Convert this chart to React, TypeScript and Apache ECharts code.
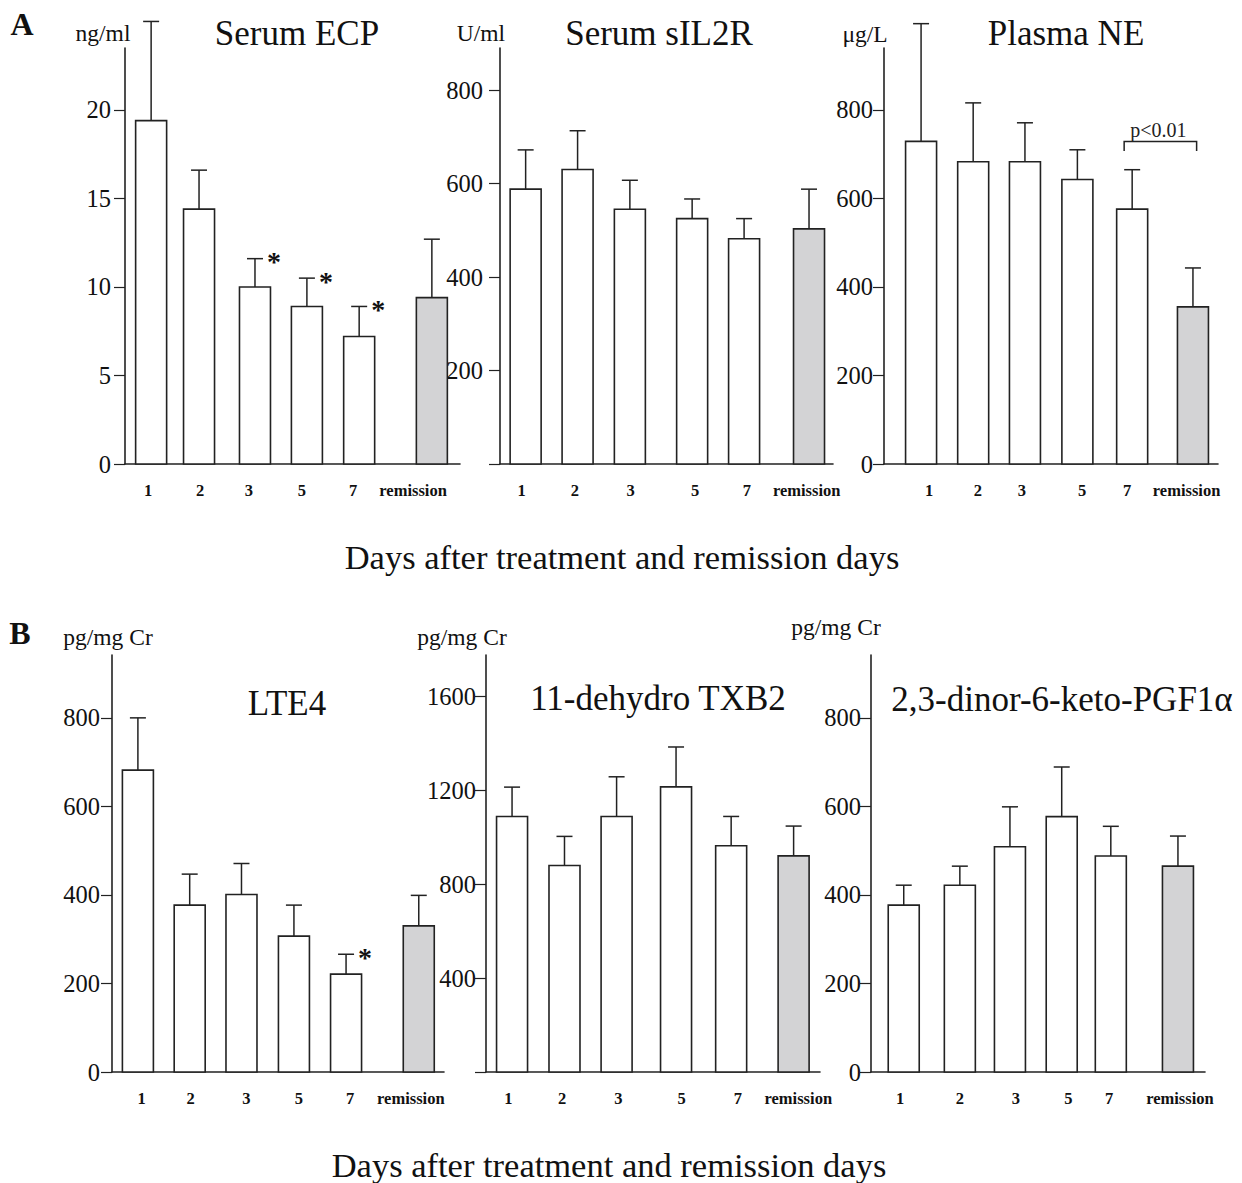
import React, { useEffect, useRef } from "react";
import * as echarts from "echarts";

const days = ["1", "2", "3", "5", "7", "remission"];

// Panel A1: Serum ECP (ng/ml)
const ecpMean = [19.4, 14.4, 10.0, 8.9, 7.2, 9.4];
const ecpErr = [25.0, 16.6, 11.6, 10.5, 8.9, 12.7];
const ecpStar = [0, 0, 1, 1, 1, 0];
const ecpBarX = [0.78, 2.21, 3.88, 5.43, 6.99, 9.16];
const ecpLabelX = [0.69, 2.24, 3.7, 5.28, 6.81, 8.6];
const ecpTicks = [0, 5, 10, 15, 20];

// Panel A2: Serum sIL2R (U/ml)
const il2Mean = [588, 630, 545, 525, 482, 503];
const il2Err = [672, 713, 607, 567, 525, 588];
const il2Star = [0, 0, 0, 0, 0, 0];
const il2BarX = [0.77, 2.33, 3.9, 5.77, 7.33, 9.28];
const il2LabelX = [0.65, 2.25, 3.92, 5.86, 7.41, 9.21];
const il2Ticks = [0, 200, 400, 600, 800];

// Panel A3: Plasma NE (µg/L)
const neMean = [729, 683, 683, 643, 576, 355];
const neErr = [995, 816, 771, 710, 665, 443];
const neStar = [0, 0, 0, 0, 0, 0];
const neBarX = [1.11, 2.67, 4.22, 5.79, 7.43, 9.25];
const neLabelX = [1.35, 2.81, 4.13, 5.93, 7.28, 9.06];
const neTicks = [0, 200, 400, 600, 800];
const neBracket = [7.19, 9.36, 729, 707];

// Panel B1: LTE4
const lteMean = [682, 377, 401, 307, 221, 330];
const lteErr = [800, 447, 471, 377, 266, 399];
const lteStar = [0, 0, 0, 0, 1, 0];
const lteBarX = [0.78, 2.34, 3.9, 5.48, 7.05, 9.24];
const lteLabelX = [0.89, 2.37, 4.05, 5.63, 7.17, 9.0];
const lteTicks = [0, 200, 400, 600, 800];

// Panel B2: 11-dehydro TXB2
const txMean = [1089, 880, 1089, 1215, 964, 921];
const txErr = [1214, 1004, 1258, 1385, 1089, 1048];
const txStar = [0, 0, 0, 0, 0, 0];
const txBarX = [0.78, 2.35, 3.91, 5.69, 7.34, 9.21];
const txLabelX = [0.67, 2.28, 3.96, 5.86, 7.54, 9.35];
const txTicks = [0, 400, 800, 1200, 1600];

// Panel B3: 2,3-dinor-6-keto-PGF1α
const pgMean = [377, 422, 509, 577, 488, 465];
const pgErr = [422, 465, 599, 689, 555, 533];
const pgStar = [0, 0, 0, 0, 0, 0];
const pgBarX = [0.98, 2.66, 4.16, 5.71, 7.18, 9.19];
const pgLabelX = [0.87, 2.66, 4.34, 5.91, 7.13, 9.25];
const pgTicks = [0, 200, 400, 600, 800];

const SERIF = "'Liberation Serif', 'Times New Roman', serif";
const INK = "#222";

type Panel = {
  grid: { left: number; top: number; width: number; height: number };
  yMax: number;
  ticks: number[];
  showZero: boolean;
  labelMargin: number;
  mean: number[];
  err: number[];
  star: number[];
  barX: number[];
  labelX: number[];
  title: string;
  titlePos: [number, number];
  unit: string;
  unitPos: [number, number];
};

const panels: Panel[] = [
  { grid: { left: 125, top: 48, width: 335, height: 416 }, yMax: 23.5, ticks: ecpTicks, showZero: true, labelMargin: 14,
    mean: ecpMean, err: ecpErr, star: ecpStar, barX: ecpBarX, labelX: ecpLabelX,
    title: "Serum ECP", titlePos: [297, 33], unit: "ng/ml", unitPos: [103, 33] },
  { grid: { left: 500, top: 48, width: 333, height: 416 }, yMax: 890, ticks: il2Ticks, showZero: false, labelMargin: 17,
    mean: il2Mean, err: il2Err, star: il2Star, barX: il2BarX, labelX: il2LabelX,
    title: "Serum sIL2R", titlePos: [659, 33], unit: "U/ml", unitPos: [481, 33] },
  { grid: { left: 884, top: 48, width: 334, height: 416 }, yMax: 940, ticks: neTicks, showZero: true, labelMargin: 11,
    mean: neMean, err: neErr, star: neStar, barX: neBarX, labelX: neLabelX,
    title: "Plasma NE", titlePos: [1066, 33], unit: "μg/L", unitPos: [865, 34] },
  { grid: { left: 112, top: 655, width: 332, height: 417 }, yMax: 942, ticks: lteTicks, showZero: true, labelMargin: 12,
    mean: lteMean, err: lteErr, star: lteStar, barX: lteBarX, labelX: lteLabelX,
    title: "LTE4", titlePos: [287, 703], unit: "pg/mg Cr", unitPos: [108, 637] },
  { grid: { left: 486, top: 655, width: 334, height: 417 }, yMax: 1777, ticks: txTicks, showZero: false, labelMargin: 10,
    mean: txMean, err: txErr, star: txStar, barX: txBarX, labelX: txLabelX,
    title: "11-dehydro TXB2", titlePos: [658, 698], unit: "pg/mg Cr", unitPos: [462, 637] },
  { grid: { left: 871, top: 655, width: 334, height: 417 }, yMax: 942, ticks: pgTicks, showZero: true, labelMargin: 10,
    mean: pgMean, err: pgErr, star: pgStar, barX: pgBarX, labelX: pgLabelX,
    title: "2,3-dinor-6-keto-PGF1α", titlePos: [1062, 699], unit: "pg/mg Cr", unitPos: [836, 627] },
];

function barRender(params: any, api: any) {
  const x = api.value(0);
  const m = api.value(1);
  const e = api.value(2);
  const rem = api.value(3);
  const st = api.value(4);
  const base = api.coord([x, 0]);
  const top = api.coord([x, m]);
  const et = api.coord([x, e]);
  const bw = 31;
  const children: any[] = [
    { type: "rect", shape: { x: base[0] - bw / 2, y: top[1], width: bw, height: base[1] - top[1] },
      style: { fill: rem ? "#d3d3d5" : "#fff", stroke: INK, lineWidth: 1.6 } },
    { type: "line", shape: { x1: top[0], y1: top[1], x2: et[0], y2: et[1] },
      style: { stroke: INK, lineWidth: 1.5 } },
    { type: "line", shape: { x1: et[0] - 8, y1: et[1], x2: et[0] + 8, y2: et[1] },
      style: { stroke: INK, lineWidth: 1.5 } },
  ];
  if (st) {
    children.push({ type: "text", x: et[0] + 19, y: et[1] + 3,
      style: { text: "*", font: `bold 28px ${SERIF}`, fill: "#111", align: "center", verticalAlign: "middle" } });
  }
  return { type: "group", children };
}

function bracketRender(params: any, api: any) {
  const x1 = api.value(0), x2 = api.value(1), yT = api.value(2), yE = api.value(3);
  const a = api.coord([x1, yT]);
  const b = api.coord([x2, yT]);
  const aE = api.coord([x1, yE]);
  const bE = api.coord([x2, yE]);
  return {
    type: "group",
    children: [
      { type: "polyline", shape: { points: [[aE[0], aE[1]], [a[0], a[1]], [b[0], b[1]], [bE[0], bE[1]]] },
        style: { stroke: INK, lineWidth: 1.5, fill: "none" } },
      { type: "text", x: (a[0] + b[0]) / 2 - 2, y: a[1] - 11,
        style: { text: "p<0.01", font: `20px ${SERIF}`, fill: INK, align: "center", verticalAlign: "middle" } },
    ],
  };
}

export default function App() {
  const ref = useRef<HTMLDivElement>(null);
  useEffect(() => {
    if (!ref.current) return;
    const chart = echarts.init(ref.current, null, { renderer: "svg" });
    const grid: any[] = [];
    const xAxis: any[] = [];
    const yAxis: any[] = [];
    const series: any[] = [];
    const graphic: any[] = [];
    panels.forEach((p, i) => {
      grid.push({ ...p.grid, containLabel: false });
      const lx = p.labelX;
      xAxis.push({
        type: "value", gridIndex: i, min: 0, max: 10,
        splitLine: { show: false },
        axisLine: { show: true, lineStyle: { color: INK, width: 1.6 } },
        axisTick: { show: false },
        axisLabel: {
          customValues: lx,
          margin: 18,
          fontFamily: SERIF, fontWeight: "bold", fontSize: 16.5, color: "#111",
          formatter: (v: number) => {
            let best = 0;
            lx.forEach((q, k) => { if (Math.abs(q - v) < Math.abs(lx[best] - v)) best = k; });
            return days[best];
          },
        },
      });
      const showZero = p.showZero;
      yAxis.push({
        type: "value", gridIndex: i, min: 0, max: p.yMax,
        splitLine: { show: false },
        axisLine: { show: true, lineStyle: { color: INK, width: 1.6 } },
        axisTick: { show: true, customValues: p.ticks, length: 11, lineStyle: { color: INK, width: 1.2 } },
        axisLabel: {
          customValues: p.ticks,
          margin: p.labelMargin,
          fontFamily: SERIF, fontSize: 24.5, color: "#111",
          formatter: (v: number) => (v === 0 && !showZero ? "" : String(v)),
        },
      });
      const data = p.mean.map((m, k) => [p.barX[k], m, p.err[k], k === 5 ? 1 : 0, p.star[k]]);
      series.push({
        type: "custom", xAxisIndex: i, yAxisIndex: i, renderItem: barRender, data,
        encode: { x: 0, y: [1, 2] }, clip: false, silent: true,
      });
      if (i === 2) {
        series.push({
          type: "custom", xAxisIndex: i, yAxisIndex: i, renderItem: bracketRender,
          data: [neBracket], encode: { x: [0, 1], y: [2, 3] }, clip: false, silent: true,
        });
      }
      graphic.push({ type: "text", x: p.titlePos[0], y: p.titlePos[1],
        style: { text: p.title, font: `35px ${SERIF}`, fill: "#111", align: "center", verticalAlign: "middle" } });
      graphic.push({ type: "text", x: p.unitPos[0], y: p.unitPos[1],
        style: { text: p.unit, font: `23.5px ${SERIF}`, fill: "#111", align: "center", verticalAlign: "middle" } });
    });
    graphic.push({ type: "text", x: 22, y: 24,
      style: { text: "A", font: `bold 32px ${SERIF}`, fill: "#111", align: "center", verticalAlign: "middle" } });
    graphic.push({ type: "text", x: 20, y: 633,
      style: { text: "B", font: `bold 32px ${SERIF}`, fill: "#111", align: "center", verticalAlign: "middle" } });
    graphic.push({ type: "text", x: 622, y: 557,
      style: { text: "Days after treatment and remission days", font: `34.5px ${SERIF}`, fill: "#111", align: "center", verticalAlign: "middle" } });
    graphic.push({ type: "text", x: 609, y: 1165,
      style: { text: "Days after treatment and remission days", font: `34.5px ${SERIF}`, fill: "#111", align: "center", verticalAlign: "middle" } });

    chart.setOption({
      animation: false,
      backgroundColor: "#fff",
      grid, xAxis, yAxis, series, graphic,
    });
    return () => chart.dispose();
  }, []);
  return (
    <div
      ref={ref}
      style={{ position: "absolute", left: 0, top: 0, width: 1242, height: 1183 }}
    />
  );
}
